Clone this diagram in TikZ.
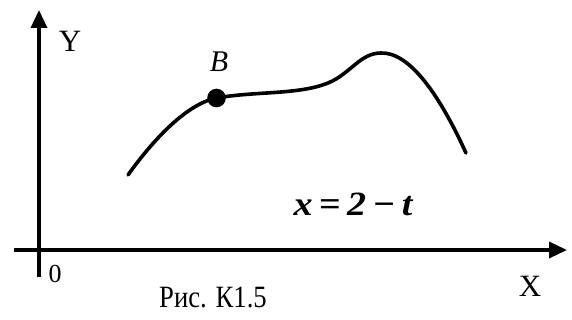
\documentclass[tikz,border=0pt]{standalone}
\usepackage{fontspec}
\usepackage{graphicx}
\setmainfont{Liberation Serif}
\usetikzlibrary{arrows.meta}
\tikzset{
  axis/.style={line width=3.4pt,-{Triangle[length=18pt,width=16pt]}},
  curve/.style={line width=3.6pt,line cap=round},
  lbl/.style={inner sep=0pt,anchor=center},
}
\begin{document}
\begin{tikzpicture}[x=1pt,y=-1pt]
\useasboundingbox (0,0) rectangle (572,320);
\coordinate (ybot) at (39,277);
\coordinate (ytop) at (39,10);
\coordinate (xl) at (14,250);
\coordinate (xr) at (567,250);
\draw[axis] (ybot) -- (ytop);
\draw[axis] (xl) -- (xr);
\coordinate (cstart) at (128,175);
\coordinate (bpt) at (216.5,98);
\coordinate (cmid) at (328,83);
\coordinate (cpeak) at (381,53);
\coordinate (cend) at (466,153);
\draw[curve] (cstart) .. controls (153,140) and (186.5,104) .. (bpt)
  .. controls (256.5,91) and (298,95) .. (cmid)
  .. controls (350,74.2) and (360,53) .. (cpeak)
  .. controls (410,52) and (440,96) .. (cend);
\fill (bpt) circle (9.3);
\node[lbl,font=\fontsize{31}{31}\selectfont] (ylab) at (70,41) {Y};
\node[lbl,font=\fontsize{31}{31}\selectfont] (xlab) at (530,286.5) {X};
\node[lbl,font=\fontsize{26}{26}\selectfont] (zero) at (55,274) {0};
\node[lbl,font=\fontsize{30}{30}\selectfont\itshape] (blab) at (219,62) {B};
\node[lbl,font=\fontsize{34}{34}\selectfont\bfseries\itshape] (eq) at (353,204) {\scalebox{1.12}[1]{x\,=\,2\,−\,t}};
\node[lbl,font=\fontsize{31}{31}\selectfont] (cap) at (213,297) {\scalebox{0.86}[1]{Рис. К1.5}};
\end{tikzpicture}
\end{document}
